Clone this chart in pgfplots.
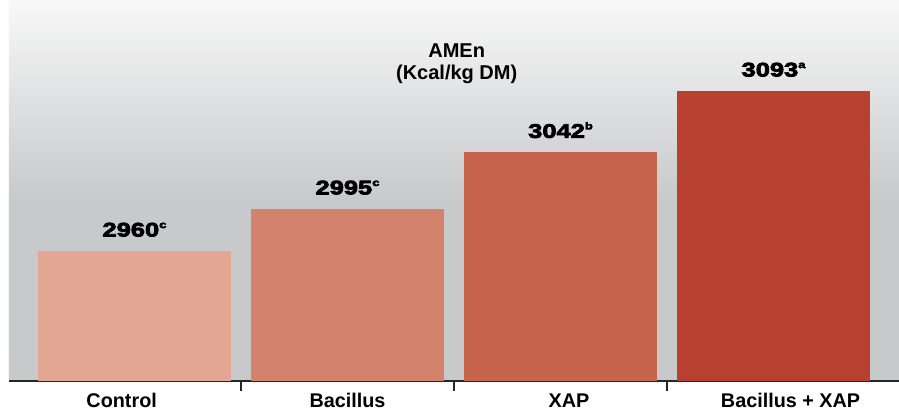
\documentclass[border=0pt]{standalone}
\usepackage{fontspec}
\setmainfont{Liberation Sans}
\newfontfamily\heavy[FakeBold=4,FakeStretch=1.3]{Liberation Sans Bold}
\usepackage{pgfplots}
\pgfplotsset{compat=1.18}
\definecolor{cA}{RGB}{226,166,146}
\definecolor{cB}{RGB}{211,130,108}
\definecolor{cC}{RGB}{198,100,78}
\definecolor{cD}{RGB}{184,64,48}
\definecolor{bgtop}{RGB}{248,248,248}
\definecolor{bgbot}{RGB}{200,201,203}
\pgfdeclareverticalshading{bgshade}{100bp}{color(0bp)=(bgbot); color(48.7bp)=(bgbot); color(75bp)=(bgtop); color(100bp)=(bgtop)}
\newcommand\lbl[2]{{\heavy\fontsize{9.8pt}{10pt}\selectfont #1\raisebox{4.2pt}{\fontsize{5pt}{6pt}\selectfont #2}}}
\begin{document}
\begin{tikzpicture}
\begin{axis}[
  scale only axis,
  width=445pt, height=190.25pt,
  xmin=-0.589, xmax=3.589,
  ymin=2852.4, ymax=3168.7,
  enlargelimits=false,
  axis x line*=bottom,
  axis y line=none,
  x axis line style={line width=1pt, color=black!85, -},
  axis background/.style={shading=bgshade},
  ybar, bar width=0.906, bar shift=0pt,
  xtick={0.5,1.5,2.5}, xticklabels={,,},
  xtick align=outside,
  major tick length=5pt,
  x tick style={line width=0.6pt, color=black!85},
  extra x ticks={-0.06,1,2.04,3.08},
  extra x tick labels={Control,Bacillus,XAP,Bacillus + XAP},
  extra x tick style={major tick length=0pt},
  xticklabel style={anchor=base, yshift=-13.25pt, inner sep=0pt, font=\bfseries\fontsize{9.9pt}{10pt}\selectfont},
  ytick=\empty,
  every node near coord/.append style={anchor=south, inner sep=0pt, yshift=7pt, text=black},
]
\addplot[fill=cA, draw=none, nodes near coords={\lbl{2960}{c}}] coordinates {(0,2960)};
\addplot[fill=cB, draw=none, nodes near coords={\lbl{2995}{c}}] coordinates {(1,2995)};
\addplot[fill=cC, draw=none, nodes near coords={\lbl{3042}{b}}] coordinates {(2,3042)};
\addplot[fill=cD, draw=none, nodes near coords={\lbl{3093}{a}}] coordinates {(3,3093)};
\node[anchor=base, inner sep=0pt, font=\bfseries\fontsize{10pt}{11pt}\selectfont] at (rel axis cs:0.503,0.850) {AMEn};
\node[anchor=base, inner sep=0pt, font=\bfseries\fontsize{10pt}{11pt}\selectfont] at (rel axis cs:0.503,0.790) {(Kcal/kg DM)};
\end{axis}
\pgfresetboundingbox
\path (current axis.south west) ++(-4.5pt,-14.25pt) coordinate (bl);
\path (current axis.north east) coordinate (tr);
\path[use as bounding box] (bl) rectangle (tr);
\end{tikzpicture}
\end{document}
